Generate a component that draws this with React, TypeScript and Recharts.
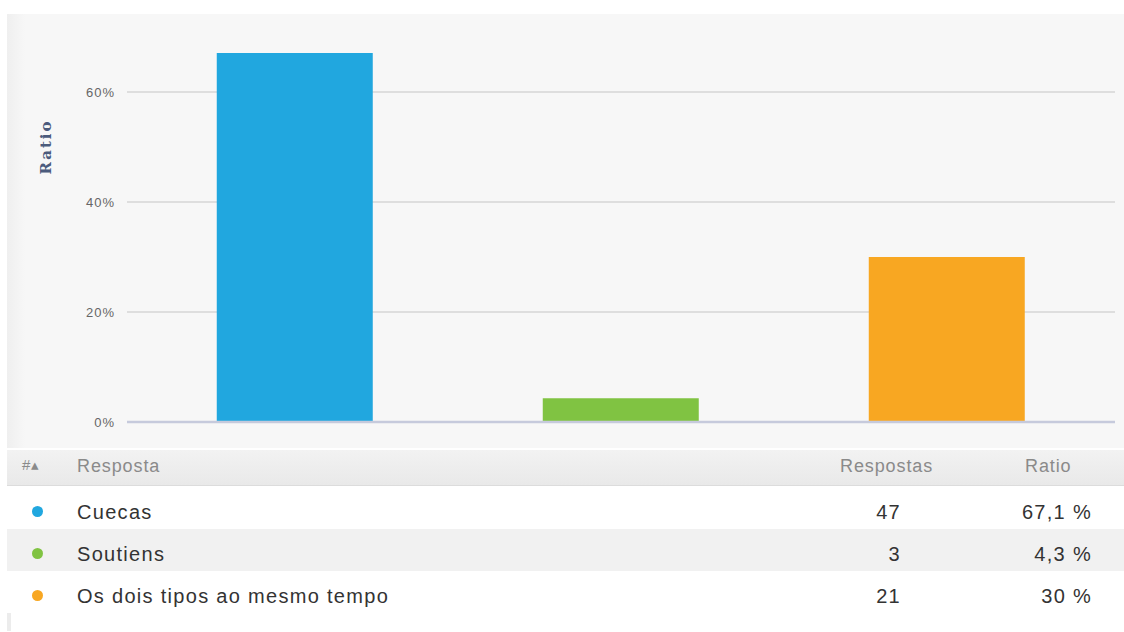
import React from 'react';
import { BarChart, Bar, XAxis, YAxis, CartesianGrid, Cell, ReferenceLine } from 'recharts';

const categories = ['Cuecas', 'Soutiens', 'Os dois tipos ao mesmo tempo'];
const ratios = [67.1, 4.3, 30];
const counts = [47, 3, 21];
const ratioLabels = ['67,1 %', '4,3 %', '30 %'];
const colors = ['#21a7df', '#80c342', '#f8a722'];
const yTicks = [0, 20, 40, 60];

const data = categories.map((name, i) => ({ name, ratio: ratios[i] }));

const font = '"Liberation Sans", Arial, sans-serif';

const RatioLabel = () => (
  <text
    x={39}
    y={133}
    transform="rotate(-90 39 133)"
    textAnchor="middle"
    dominantBaseline="central"
    fill="#4b5b7c"
    fontFamily='"DejaVu Serif", serif'
    fontWeight="bold"
    fontSize={15}
    letterSpacing={2}
  >
    Ratio
  </text>
);

export default function App() {
  return (
    <div style={{ position: 'absolute', left: 0, top: 0, width: 1124, height: 632, background: '#fff', fontFamily: font }}>
      <div style={{ position: 'absolute', left: 7, top: 14, width: 1117, height: 434, background: '#f7f7f7' }}>
        <div style={{ position: 'absolute', left: 0, top: 0, width: 18, height: 434, background: 'linear-gradient(to right, #efefef, #f7f7f7)' }} />
        <BarChart
          width={1117}
          height={434}
          data={data}
          margin={{ top: 23, right: 9, bottom: 26, left: 0 }}
          barCategoryGap="26%"
          style={{ position: 'absolute', left: 0, top: 0 }}
        >
          <CartesianGrid vertical={false} stroke="#d6d6d6" strokeWidth={1.5} horizontalValues={yTicks.slice(1)} />
          <XAxis
            dataKey="name"
            padding={{ left: 5, right: 5 }}
            tick={false}
            tickLine={false}
            axisLine={false}
            height={0}
          />
          <YAxis
            domain={[0, 70]}
            ticks={yTicks}
            width={120}
            tickFormatter={(v: number) => `${v}%`}
            tick={{ fill: '#666', fontSize: 13, fontFamily: font, letterSpacing: 1 }}
            tickSize={0}
            tickMargin={12}
            axisLine={false}
            label={<RatioLabel />}
          />
          <ReferenceLine y={0} stroke="#c6cadc" strokeWidth={2.5} />
          <Bar dataKey="ratio" isAnimationActive={false}>
            {data.map((d, i) => (
              <Cell key={d.name} fill={colors[i]} />
            ))}
          </Bar>
        </BarChart>
      </div>
      <div style={{ position: 'absolute', left: 7, top: 450, width: 1117, height: 36, background: 'linear-gradient(#f2f2f2, #e9e9e9)', borderBottom: '1px solid #dcdcdc', color: '#8a8a8a', fontSize: 18, letterSpacing: 0.9, boxSizing: 'border-box' }}>
        <span style={{ position: 'absolute', left: 15, top: 6, fontSize: 15 }}>#▴</span>
        <span style={{ position: 'absolute', left: 70, top: 6 }}>Resposta</span>
        <span style={{ position: 'absolute', left: 833, top: 6 }}>Respostas</span>
        <span style={{ position: 'absolute', left: 1018, top: 6 }}>Ratio</span>
      </div>
      {categories.map((c, i) => (
        <div
          key={c}
          style={{
            position: 'absolute',
            left: 7,
            top: 487 + i * 42,
            width: 1117,
            height: 42,
            background: i % 2 === 1 ? '#f1f1f1' : '#fff',
            color: '#333',
            fontSize: 20,
            letterSpacing: 1.3,
          }}
        >
          <span style={{ position: 'absolute', left: 25, top: 19, width: 11, height: 11, borderRadius: 6, background: colors[i] }} />
          <span style={{ position: 'absolute', left: 70, top: 14 }}>{c}</span>
          <span style={{ position: 'absolute', right: 1117 - 894, top: 14 }}>{counts[i]}</span>
          <span style={{ position: 'absolute', right: 1117 - 1085, top: 14 }}>{ratioLabels[i]}</span>
        </div>
      ))}
      <div style={{ position: 'absolute', left: 7, top: 613, width: 4, height: 18, background: '#ececec' }} />
    </div>
  );
}
